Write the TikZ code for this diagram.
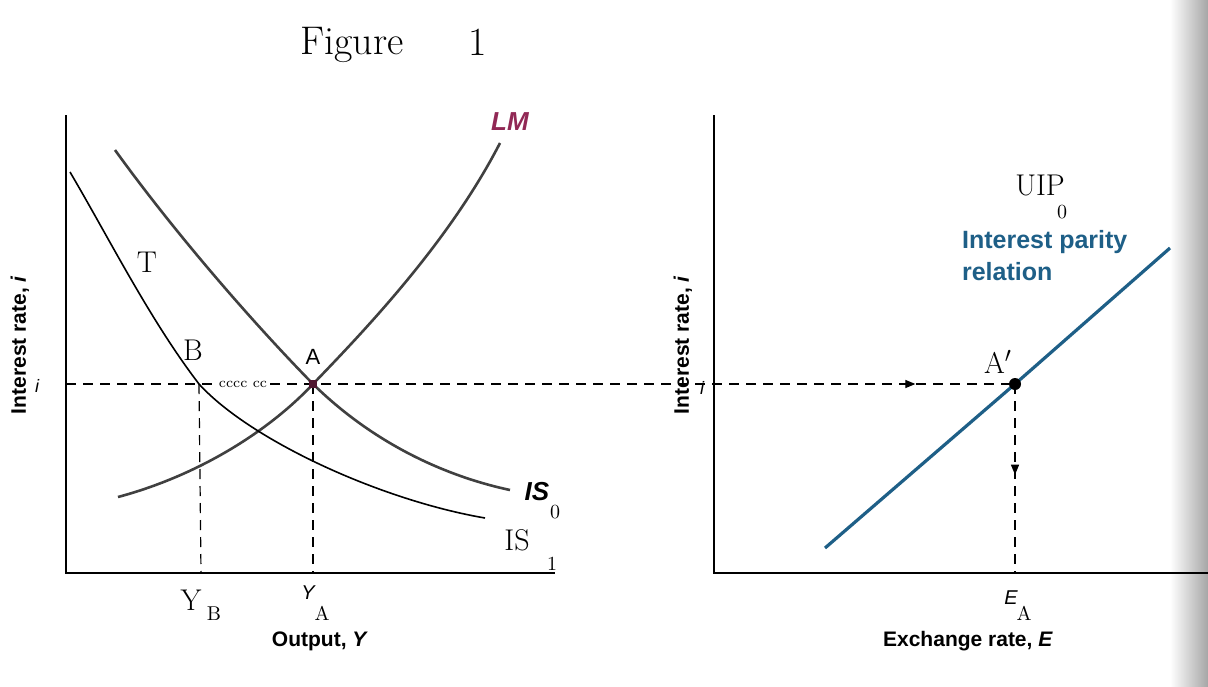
\documentclass[tikz,border=0pt]{standalone}
\usepackage{fontspec}
\setsansfont{Liberation Sans}
\usetikzlibrary{arrows.meta,decorations.markings}
\definecolor{lmred}{RGB}{145,40,85}
\definecolor{uipblue}{RGB}{30,95,135}
\tikzset{
  axis/.style={line width=1pt},
  guide/.style={dash pattern=on 5pt off 3.5pt, line width=0.6pt},
  printed/.style={line width=1.3pt, black!75},
  penline/.style={line width=0.8pt},
  axlabel/.style={font=\sffamily\bfseries\fontsize{10.5}{12}\selectfont},
  hand/.style={font=\fontsize{15}{17}\selectfont},
  handsub/.style={font=\fontsize{10}{12}\selectfont},
}
\begin{document}
\begin{tikzpicture}[x=0.5pt, y=-0.5pt, >={Triangle[length=5pt,width=4pt]}]
  \useasboundingbox (0,0) rectangle (1208,686);
  \shade[left color=white, right color=black!35] (1170,0) rectangle (1208,686);

  % left panel
  \coordinate (O1) at (66,573);
  \coordinate (T1) at (66,115);
  \coordinate (R1) at (555,573);
  \coordinate (A) at (313,384);
  \coordinate (B) at (199,384);
  \coordinate (YA) at (313,573);
  \coordinate (YB) at (201,573);
  % right panel
  \coordinate (O2) at (714,573);
  \coordinate (T2) at (714,115);
  \coordinate (R2) at (1208,573);
  \coordinate (Ap) at (1015,384);
  \coordinate (EA) at (1015,573);

  \draw[axis] (T1) -- (O1) -- (R1);
  \draw[axis] (T2) -- (O2) -- (R2);

  % dashed guides
  \draw[guide, decoration={markings, mark=at position 0.895 with {\arrow{>}}},
        postaction={decorate}] (O1 |- A) -- (Ap);
  \draw[guide] (A) -- (YA);
  \draw[guide] (B) -- (YB);
  \draw[guide, decoration={markings, mark=at position 0.48 with {\arrow{>}}},
        postaction={decorate}] (Ap) -- (EA);

  % curves
  \draw[printed] (118,497) .. controls (200,475) and (270,430) .. (A)
                 .. controls (370,325) and (450,240) .. (500,143);
  \draw[printed] (115,150) .. controls (180,240) and (260,330) .. (A)
                 .. controls (370,440) and (440,475) .. (510,490);
  \draw[penline] (70,172) .. controls (110,240) and (150,320) .. (B)
                 .. controls (250,440) and (380,500) .. (485,518);
  \draw[line width=1.6pt, uipblue] (825,548) -- (Ap) -- (1170,248);

  \node[fill=lmred!55!black, inner sep=0pt, minimum size=4pt] (ptA) at (A) {};
  \fill (Ap) circle (3pt);

  % labels, left
  \node[axlabel, rotate=90] (ylab1) at (20,345) {Interest rate, \textit{i}};
  \node[font=\sffamily\itshape\small] (i1) at (37,386) {i};
  \node[font=\sffamily\bfseries\itshape\fontsize{13}{15}\selectfont, lmred] (lm) at (510,122) {LM};
  \node[font=\sffamily\bfseries\itshape\fontsize{13}{15}\selectfont] (is0) at (537,492) {IS};
  \node[handsub] (is0s) at (555,512) {0};
  \node[hand] (is1) at (517,540) {IS};
  \node[handsub] (is1s) at (552,564) {1};
  \node[hand] (t) at (147,262) {T};
  \node[hand] (b) at (193,350) {B};
  \node[font=\fontsize{7}{8}\selectfont, fill=white, inner sep=0.5pt] (cc) at (243,384) {cccc cc};
  \node[font=\sffamily\fontsize{11}{13}\selectfont] (a) at (313,357) {A};
  \node[hand] (yb) at (191,600) {Y};
  \node[handsub] (ybs) at (214,614) {B};
  \node[font=\sffamily\itshape\fontsize{10}{12}\selectfont] (ya) at (308,593) {Y};
  \node[handsub] (yas) at (322,613) {A};
  \node[axlabel] (xlab1) at (320,641) {Output, \textit{Y}};
  \node[font=\fontsize{20}{22}\selectfont] (fig) at (352,45) {Figure};
  \node[font=\fontsize{20}{22}\selectfont] (fign) at (478,42) {1};

  % labels, right
  \node[axlabel, rotate=90] (ylab2) at (683,345) {Interest rate, \textit{i}};
  \node[font=\sffamily\itshape\small] (i2) at (702,388) {i};
  \node[font=\sffamily\bfseries\fontsize{12.5}{16}\selectfont, uipblue, align=left, anchor=west]
    (ipr) at (955,256) {Interest parity\\relation};
  \node[hand] (uip) at (1040,185) {UIP};
  \node[handsub] (uips) at (1062,212) {0};
  \node[hand] (ap) at (998,362) {A$'$};
  \node[font=\sffamily\itshape\fontsize{10}{12}\selectfont] (ea) at (1011,598) {E};
  \node[handsub] (eas) at (1024,613) {A};
  \node[axlabel] (xlab2) at (968,641) {Exchange rate, \textit{E}};
\end{tikzpicture}
\end{document}
